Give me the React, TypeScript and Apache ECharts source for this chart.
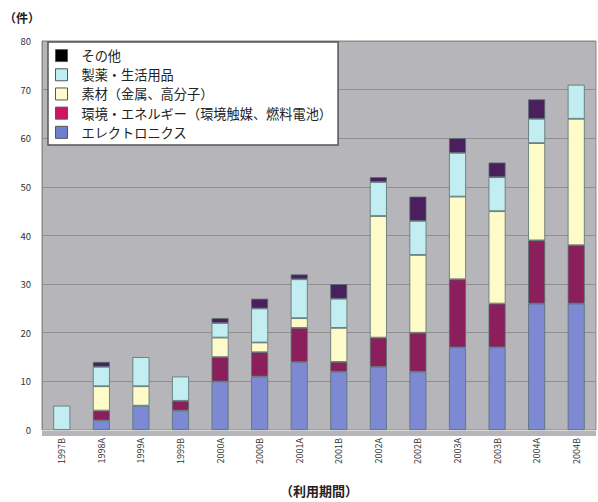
import React, { useEffect, useRef } from "react";
import * as echarts from "echarts";

const categories = ["1997B", "1998A", "1999A", "1999B", "2000A", "2000B", "2001A", "2001B", "2002A", "2002B", "2003A", "2003B", "2004A", "2004B"];
const electronics = [0, 2, 5, 4, 10, 11, 14, 12, 13, 12, 17, 17, 26, 26];
const environment = [0, 2, 0, 2, 5, 5, 7, 2, 6, 8, 14, 9, 13, 12];
const materials = [0, 5, 4, 0, 4, 2, 2, 7, 25, 16, 17, 19, 20, 26];
const pharma = [5, 4, 6, 5, 3, 7, 8, 6, 7, 7, 9, 7, 5, 7];
const others = [0, 1, 0, 0, 1, 2, 1, 3, 1, 5, 3, 3, 4, 0];
const yTicks = [0, 10, 20, 30, 40, 50, 60, 70, 80];

const seriesDefs = [
  { name: "エレクトロニクス", data: electronics, color: "#7d8ad3", legendColor: "#6f7fcf" },
  { name: "環境・エネルギー（環境触媒、燃料電池）", data: environment, color: "#8a1f5c", legendColor: "#cf1464" },
  { name: "素材（金属、高分子）", data: materials, color: "#fffbc8", legendColor: "#fffbcc" },
  { name: "製薬・生活用品", data: pharma, color: "#c2edf1", legendColor: "#bfeef2" },
  { name: "その他", data: others, color: "#4b1e5e", legendColor: "#000000" },
];

const GRID = { left: 42, top: 41, right: 2, bottom: 66 };
const W = 598;
const H = 502;

export default function App() {
  const ref = useRef<HTMLDivElement>(null);
  useEffect(() => {
    document.body.style.margin = "0";
    const chart = echarts.init(ref.current!, null, { renderer: "svg" });
    const font = '"Noto Sans CJK JP", "Noto Sans", sans-serif';
    chart.setOption({
      animation: false,
      textStyle: { fontFamily: font },
      grid: {
        ...GRID,
        show: true,
        backgroundColor: "#b6b6ba",
        borderColor: "#8a8a8a",
        borderWidth: 1,
      },
      legend: {
        orient: "vertical",
        left: 48,
        top: 42,
        padding: [7, 6, 6, 7],
        backgroundColor: "#ffffff",
        borderColor: "#555555",
        borderWidth: 1.5,
        icon: "rect",
        itemWidth: 12,
        itemHeight: 12,
        itemGap: 6,
        selectedMode: false,
        textStyle: { fontSize: 13.2, color: "#222", fontFamily: font, padding: [0, 0, 0, 9] },
        data: [...seriesDefs].reverse().map((s) => ({
          name: s.name,
          itemStyle: { color: s.legendColor, borderColor: "#555", borderWidth: 1 },
        })),
      },
      xAxis: {
        type: "category",
        data: categories,
        name: "（利用期間）",
        nameLocation: "middle",
        nameGap: 54,
        nameTextStyle: { fontSize: 13, color: "#222", fontWeight: "bold" },
        axisLine: { lineStyle: { color: "#d8d8d8" } },
        axisTick: { show: false },
        axisLabel: { rotate: 90, fontSize: 9, color: "#333", margin: 8 },
      },
      yAxis: {
        type: "value",
        min: yTicks[0],
        max: yTicks[yTicks.length - 1],
        interval: 10,
        axisLine: { show: true, lineStyle: { color: "#8a8a8a" } },
        axisTick: { show: false },
        axisLabel: { fontSize: 9.5, color: "#333", margin: 11 },
        splitLine: { lineStyle: { color: "#8e8e8e", width: 1 } },
      },
      graphic: [
        {
          type: "text",
          left: 4,
          top: 11,
          style: { text: "（件）", fontSize: 12, fontWeight: "bold", fill: "#222", fontFamily: font },
        },
      ],
      series: seriesDefs.map((s) => ({
        name: s.name,
        type: "bar",
        stack: "total",
        barWidth: 17,
        data: s.data.map((v) => (v === 0 ? null : v)),
        itemStyle: { color: s.color, borderColor: "#56706f", borderWidth: 0.8 },
      })),
    });
    return () => chart.dispose();
  }, []);
  return (
    <div style={{ position: "relative", width: W, height: H, background: "#ffffff" }}>
      <div
        style={{
          position: "absolute",
          left: GRID.left,
          top: GRID.top,
          width: W - GRID.left - GRID.right,
          height: H - GRID.top - GRID.bottom,
          background: "#b6b6ba",
        }}
      />
      <div ref={ref} style={{ position: "absolute", left: 0, top: 0, width: W, height: H }} />
    </div>
  );
}
